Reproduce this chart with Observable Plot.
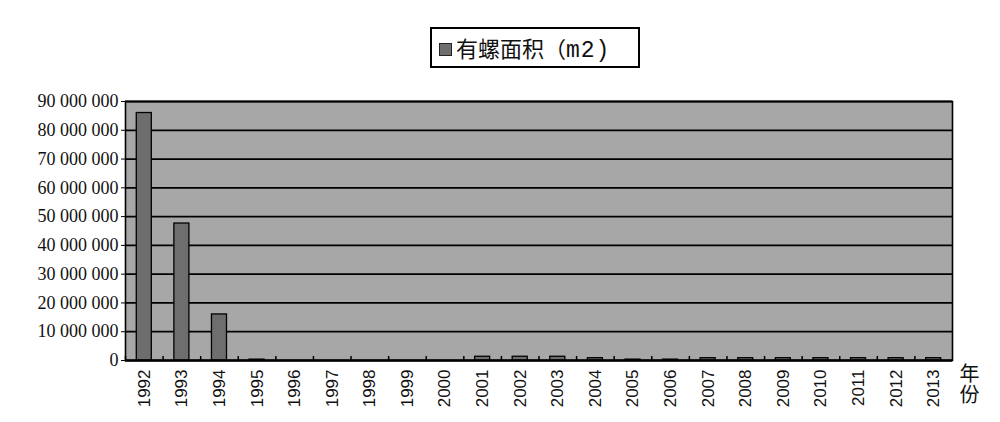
<!DOCTYPE html>
<html><head><meta charset="utf-8">
<script src="https://cdn.jsdelivr.net/npm/d3@7"></script>
<script src="https://cdn.jsdelivr.net/npm/@observablehq/plot@0.6"></script>
<style>
body{margin:0;background:#fff;}
#wrap{position:relative;width:1000px;height:422px;}
#legend{position:absolute;left:430px;top:27px;width:206px;height:37px;border:2px solid #000;background:#fff;
 font-family:"Noto Sans CJK SC",sans-serif;font-size:22px;line-height:37px;color:#111;white-space:nowrap;}
#legend .sw{display:inline-block;width:11px;height:11px;background:#6e6e6e;border:1px solid #222;margin:0 4px 0 7px;vertical-align:1px;}
#legend .m{font-family:"Liberation Mono",monospace;font-size:23px;letter-spacing:1px;}
#xlab{position:absolute;left:958px;top:363px;font-family:"Noto Sans CJK SC",sans-serif;font-size:20px;line-height:22px;writing-mode:vertical-rl;text-orientation:upright;letter-spacing:1px;color:#111;}
</style></head>
<body><div id="wrap">
<div id="legend"><span class="sw"></span>有螺面积（<span class="m">m2)</span></div>
<div id="xlab">年份</div>
</div>
<script>
const years = ["1992","1993","1994","1995","1996","1997","1998","1999","2000","2001","2002","2003","2004","2005","2006","2007","2008","2009","2010","2011","2012","2013"];
const area = [86000000,47600000,16000000,300000,0,0,0,0,0,1300000,1300000,1300000,800000,300000,300000,800000,800000,800000,800000,800000,800000,800000];
const yTicks = [0,10000000,20000000,30000000,40000000,50000000,60000000,70000000,80000000,90000000];
const seriesName = "有螺面积（m2)";

const data = years.map((y,i)=>({year:y, value:area[i]}));
const W=1000,H=422,mL=125,mR=48,mT=101,mB=62;
const step=(W-mL-mR)/22;
const fmt = v => d3.format(",")(v).replace(/,/g," ");

const chart = Plot.plot({
  width:W,height:H,marginLeft:mL,marginRight:mR,marginTop:mT,marginBottom:mB,
  style:{background:"transparent",color:"#111",fontFamily:"'Liberation Serif', 'Times New Roman', serif"},
  x:{type:"band",domain:years,paddingInner:0.6,paddingOuter:0.3,round:false,label:null},
  y:{domain:[0,90000000],label:null},
  marks:[
    Plot.frame({fill:"#a7a7a7"}),
    Plot.gridY(yTicks,{stroke:"#000",strokeOpacity:1,strokeWidth:1.8}),
    Plot.barY(data,{x:"year",y:"value",fill:"#6e6e6e",stroke:"#000",strokeWidth:1.3}),
    Plot.ruleX(years,{x:d=>d,dx:-step/2,y1:0,y2:1400000,stroke:"#000",strokeWidth:1.5}),
    Plot.axisY(yTicks,{tickFormat:fmt,tickSize:4,tickPadding:3,fontSize:18,stroke:"#000",fill:"#111",label:null}),
    Plot.axisX({tickSize:0,tickRotate:-90,tickPadding:9,fontSize:17,fontFamily:"Liberation Sans",fill:"#111",label:null}),
    Plot.ruleY([0],{stroke:"#000",strokeWidth:1.8}),
    Plot.frame({stroke:"#000",strokeWidth:1.6})
  ]
});
document.getElementById("wrap").prepend(chart);
chart.style.position="absolute";chart.style.left="0";chart.style.top="0";
</script>
</body></html>
